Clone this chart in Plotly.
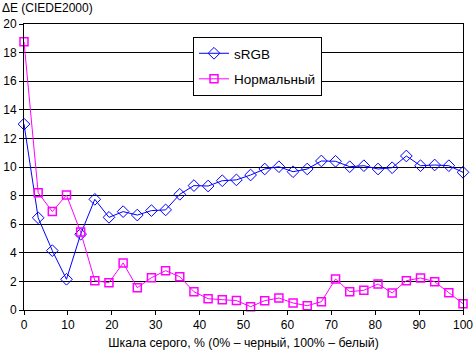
import plotly.graph_objects as go

n_points = 32
x_vals = [i * 100 / 31 for i in range(n_points)]

srgb = [13.0, 6.45, 4.15, 2.15, 5.3, 7.74, 6.48, 6.88, 6.64, 6.95, 7.0, 8.09,
        8.7, 8.67, 9.04, 9.1, 9.44, 9.86, 10.02, 9.67, 9.86, 10.42, 10.40, 10.02,
        10.09, 9.86, 9.95, 10.77, 10.09, 10.14, 10.09, 9.63]
normal = [18.76, 8.2, 6.88, 8.04, 5.45, 2.05, 1.91, 3.29, 1.56, 2.26, 2.75, 2.33,
          1.28, 0.79, 0.72, 0.66, 0.23, 0.65, 0.84, 0.49, 0.30, 0.58, 2.17, 1.28,
          1.38, 1.82, 1.19, 2.05, 2.24, 1.98, 1.21, 0.44]

series_names = ["sRGB", "Нормальный"]
y_title = "ΔE (CIEDE2000)"
x_title = "Шкала серого, % (0% – черный, 100% – белый)"

FONT = "Arial, Liberation Sans, sans-serif"

fig = go.Figure()
fig.add_trace(go.Scatter(
    x=x_vals, y=srgb, name=series_names[0], mode="lines+markers",
    line=dict(color="#0000FF", width=1),
    marker=dict(symbol="diamond-open", size=9, color="#0000FF", line=dict(width=1)),
    legendgroup="a", cliponaxis=False))
fig.add_trace(go.Scatter(
    x=x_vals, y=normal, name=series_names[1], mode="lines+markers",
    line=dict(color="#FF00FF", width=1),
    marker=dict(symbol="square-open", size=8, color="#FF00FF", line=dict(width=1.5)),
    legendgroup="b", cliponaxis=False))

fig.update_layout(
    width=473, height=353,
    margin=dict(l=24, r=10, t=24, b=43),
    paper_bgcolor="white", plot_bgcolor="white",
    font=dict(family=FONT, size=12, color="black"),
    showlegend=True,
    legend=dict(x=(193 - 24) / 439, y=(310 - 37) / 286, xanchor="left", yanchor="top",
                bordercolor="black", borderwidth=1, bgcolor="white",
                font=dict(size=13.5), tracegroupgap=5,
                itemwidth=30),
    xaxis=dict(range=[0, 100], tickvals=list(range(0, 101, 10)),
               showgrid=False, zeroline=False, automargin=False,
               ticklabeloverflow="allow",
               showline=True, linecolor="black", linewidth=1, mirror=True,
               ticks="outside", ticklen=4, tickcolor="black",
               title=dict(text=x_title, standoff=6, font=dict(size=12.3))),
    yaxis=dict(range=[0, 20], tickvals=list(range(0, 21, 2)),
               showgrid=True, gridcolor="black", gridwidth=1, zeroline=False,
               automargin=False, ticklabeloverflow="allow",
               showline=True, linecolor="black", linewidth=1, mirror=True,
               ticks="outside", ticklen=4, tickcolor="black"),
    annotations=[dict(text=y_title, xref="paper", yref="paper", x=-24/439,
                      y=1 + 24/286, xanchor="left", yanchor="top", yshift=1,
                      showarrow=False, font=dict(size=12))],
)

fig.write_html("out.html")
